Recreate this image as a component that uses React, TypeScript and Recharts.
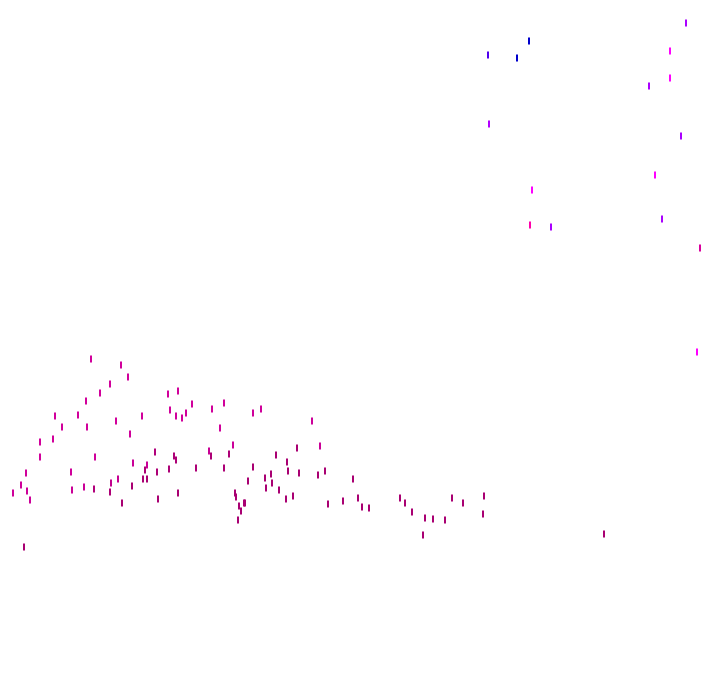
import { ScatterChart, Scatter, XAxis, YAxis } from "recharts";

// [x, y(from top), level]  level 0 = dark magenta ... 1 = blue
const lowerPink: [number, number, number][] = [
  [91, 359, 0.27], [121, 365, 0.27], [110, 384, 0.27], [100, 393, 0.27], [86, 401, 0.27],
  [128, 377, 0.27], [55, 416, 0.27], [78, 415, 0.27], [116, 421, 0.27], [62, 427, 0.27],
  [87, 427, 0.27], [40, 442, 0.27], [53, 439, 0.27], [40, 457, 0.27], [95, 457, 0.26],
  [26, 473, 0.26], [71, 472, 0.26], [21, 485, 0.26], [13, 493, 0.26], [27, 491, 0.25],
  [30, 500, 0.25], [72, 490, 0.24], [84, 487, 0.24], [118, 479, 0.22], [111, 483, 0.2],
  [168, 394, 0.27], [178, 391, 0.27], [142, 416, 0.27], [170, 410, 0.27], [176, 416, 0.27],
  [182, 418, 0.27], [186, 413, 0.27], [192, 404, 0.27], [212, 409, 0.27], [224, 403, 0.27],
  [130, 434, 0.26], [220, 428, 0.26], [233, 445, 0.25], [133, 463, 0.24], [147, 465, 0.24],
  [209, 451, 0.23], [253, 413, 0.26], [261, 409, 0.26], [312, 421, 0.25], [320, 446, 0.24],
];

const lowerDark: [number, number, number][] = [
  [94, 489, 0.12], [110, 492, 0.1], [122, 503, 0.08], [24, 547, 0.08],
  [155, 452, 0.12], [174, 456, 0.1], [176, 460, 0.1], [211, 456, 0.1], [229, 454, 0.1],
  [145, 470, 0.1], [157, 472, 0.1], [169, 469, 0.1], [196, 468, 0.1], [224, 468, 0.1],
  [143, 479, 0.08], [147, 479, 0.08], [132, 486, 0.08], [178, 493, 0.08], [158, 499, 0.08],
  [235, 493, 0.08], [236, 497, 0.08], [239, 506, 0.08], [241, 511, 0.08], [238, 520, 0.08],
  [244, 503, 0.08], [297, 448, 0.08], [276, 455, 0.08], [287, 462, 0.08], [253, 467, 0.08],
  [288, 471, 0.08], [299, 473, 0.08], [318, 475, 0.08], [325, 471, 0.08], [271, 474, 0.08],
  [265, 478, 0.08], [272, 483, 0.08], [266, 488, 0.08], [353, 479, 0.08], [248, 481, 0.08],
  [279, 490, 0.08], [286, 499, 0.08], [293, 496, 0.08], [245, 503, 0.08], [328, 504, 0.08],
  [343, 501, 0.08], [358, 498, 0.08], [362, 507, 0.08], [369, 508, 0.08], [400, 498, 0.08],
  [405, 503, 0.08], [412, 512, 0.08], [425, 518, 0.08], [433, 519, 0.08], [445, 520, 0.08],
  [452, 498, 0.08], [463, 503, 0.08], [484, 496, 0.08], [483, 514, 0.08], [423, 535, 0.08],
  [604, 534, 0.08],
];

const upperRight: [number, number, number][] = [
  [529, 41, 1], [517, 58, 1], [488, 55, 0.9], [489, 124, 0.78],
  [686, 23, 0.8], [670, 51, 0.6], [670, 78, 0.6], [649, 86, 0.8], [681, 136, 0.8],
  [655, 175, 0.6], [532, 190, 0.6], [530, 225, 0.45], [551, 227, 0.8], [662, 219, 0.8],
  [700, 248, 0.3], [697, 352, 0.6],
];

const stops: [number, number[]][] = [
  [0, [0x99, 0x00, 0x5f]],
  [0.25, [0xcc, 0x00, 0x99]],
  [0.45, [0xff, 0x00, 0xaa]],
  [0.6, [0xff, 0x00, 0xff]],
  [0.8, [0xaa, 0x00, 0xff]],
  [0.9, [0x50, 0x00, 0xee]],
  [1, [0x00, 0x00, 0xcc]],
];

function levelColor(v: number) {
  for (let i = 1; i < stops.length; i++) {
    const [t1, c1] = stops[i];
    const [t0, c0] = stops[i - 1];
    if (v <= t1) {
      const f = (v - t0) / (t1 - t0);
      const c = c0.map((a, k) => Math.round(a + (c1[k] - a) * f));
      return `rgb(${c[0]},${c[1]},${c[2]})`;
    }
  }
  return "rgb(0,0,204)";
}

const toRows = (pts: [number, number, number][]) =>
  pts.map(([x, y, z]) => ({ x, y, z }));

const Tick = (props: any) => {
  const { cx, cy, payload } = props;
  if (cx == null || cy == null) return null;
  return <rect x={cx - 1} y={cy - 3.5} width={2} height={7} fill={levelColor(payload.z)} />;
};

export default function App() {
  return (
    <div style={{ position: "absolute", left: 0, top: 0, background: "#fff" }}>
      <ScatterChart width={720} height={692} margin={{ top: 0, right: 0, bottom: 0, left: 0 }}>
        <XAxis type="number" dataKey="x" domain={[0, 720]} hide />
        <YAxis type="number" dataKey="y" domain={[0, 692]} reversed hide />
        <Scatter data={toRows(lowerDark)} shape={<Tick />} isAnimationActive={false} />
        <Scatter data={toRows(lowerPink)} shape={<Tick />} isAnimationActive={false} />
        <Scatter data={toRows(upperRight)} shape={<Tick />} isAnimationActive={false} />
      </ScatterChart>
    </div>
  );
}
